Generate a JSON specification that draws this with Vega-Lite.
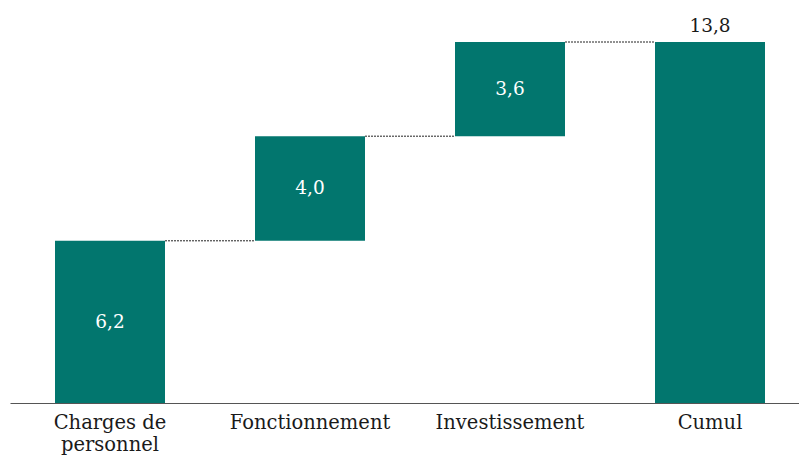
{
  "$schema": "https://vega.github.io/schema/vega-lite/v6.json",
  "width": 789,
  "height": 361,
  "padding": {"left": 10, "top": 42, "right": 0, "bottom": 52},
  "autosize": {"type": "none"},
  "background": "white",
  "config": {"view": {"stroke": null}, "font": "DejaVu Serif"},
  "datasets": {
    "bars": [
      {"category": "Charges de personnel", "start": 0, "end": 6.2, "label": "6,2", "kind": "step"},
      {"category": "Fonctionnement", "start": 6.2, "end": 10.2, "label": "4,0", "kind": "step"},
      {"category": "Investissement", "start": 10.2, "end": 13.8, "label": "3,6", "kind": "step"},
      {"category": "Cumul", "start": 0, "end": 13.8, "label": "13,8", "kind": "total"}
    ],
    "links": [
      {"from": "Charges de personnel", "to": "Fonctionnement", "value": 6.2},
      {"from": "Fonctionnement", "to": "Investissement", "value": 10.2},
      {"from": "Investissement", "to": "Cumul", "value": 13.8}
    ]
  },
  "layer": [
    {
      "data": {"name": "bars"},
      "mark": {"type": "bar", "color": "#02766e"},
      "encoding": {
        "x": {
          "field": "category", "type": "nominal", "sort": null,
          "scale": {"range": [0, 800], "paddingInner": 0.45, "paddingOuter": 0.225},
          "axis": {
            "title": null, "ticks": false, "labelAngle": 0,
            "domainColor": "#555555", "domainWidth": 1.2,
            "labelFontSize": 19.5, "labelColor": "#1a1a1a", "labelPadding": 10,
            "labelFont": "DejaVu Serif",
            "labelExpr": "datum.label == 'Charges de personnel' ? ['Charges de', 'personnel'] : datum.label",
            "labelLineHeight": 22
          }
        },
        "y": {
          "field": "start", "type": "quantitative",
          "scale": {"domain": [0, 13.8], "nice": false, "zero": true},
          "axis": null
        },
        "y2": {"field": "end"}
      }
    },
    {
      "data": {"name": "links"},
      "mark": {"type": "rule", "color": "#222222", "strokeWidth": 1, "strokeDash": [2, 1]},
      "encoding": {
        "x": {"field": "from", "type": "nominal", "sort": null, "bandPosition": 1},
        "x2": {"field": "to", "bandPosition": 0},
        "y": {"field": "value", "type": "quantitative"}
      }
    },
    {
      "data": {"name": "bars"},
      "transform": [
        {"filter": "datum.kind == 'step'"},
        {"calculate": "(datum.start + datum.end) / 2", "as": "mid"}
      ],
      "mark": {"type": "text", "color": "white", "fontSize": 18.5, "baseline": "middle", "font": "DejaVu Serif"},
      "encoding": {
        "x": {"field": "category", "type": "nominal", "sort": null},
        "y": {"field": "mid", "type": "quantitative"},
        "text": {"field": "label"}
      }
    },
    {
      "data": {"name": "bars"},
      "transform": [{"filter": "datum.kind == 'total'"}],
      "mark": {"type": "text", "color": "#1a1a1a", "fontSize": 18.5, "baseline": "middle", "dy": -16, "font": "DejaVu Serif"},
      "encoding": {
        "x": {"field": "category", "type": "nominal", "sort": null},
        "y": {"field": "end", "type": "quantitative"},
        "text": {"field": "label"}
      }
    }
  ]
}
